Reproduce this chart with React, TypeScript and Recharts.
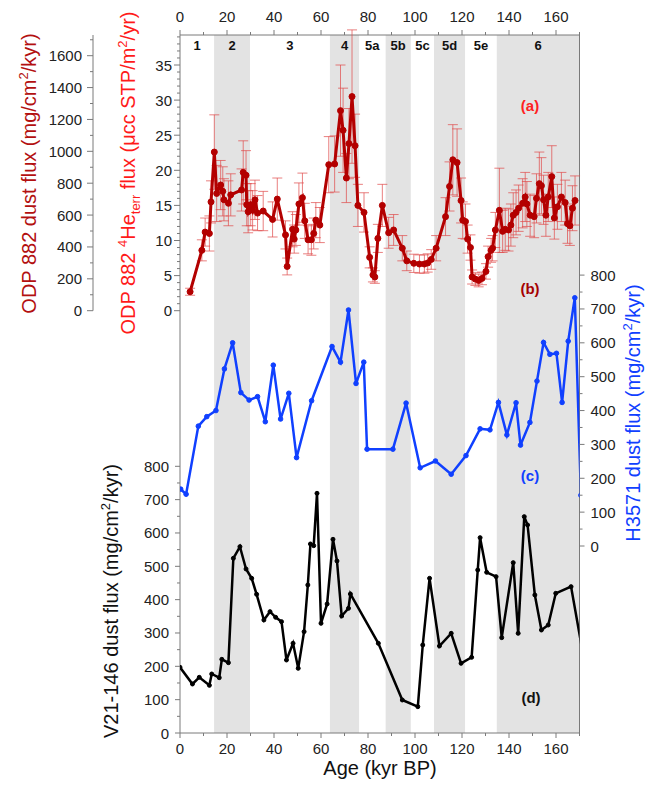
import React from 'react';
import { ComposedChart, Line, XAxis, YAxis, ErrorBar, ReferenceArea } from 'recharts';

const W = 646;
const H = 786;
// plot frame in px
const PL = 180;
const PR = 579.5;
const PT = 35;
const PB = 733;
const ODP_ZERO = 310.7; // px of zero for the ODP panel
const H_TOP = 275.1;    // px of 800 on the H3571 axis
const H_ZERO = 546;     // px of 0 on the H3571 axis
const V_TOP = 466.3;    // px of 800 on the V21 axis

const FONT = '"Liberation Sans", Arial, sans-serif';
const AXIS = '#7a7a7a';

// marine isotope stages
const stageNames = ['1', '2', '3', '4', '5a', '5b', '5c', '5d', '5e', '6'];
const stageStart = [0, 14.5, 29.8, 63.8, 76.2, 87.5, 98.2, 108.1, 121.3, 134.8];
const stageEnd = [14.5, 29.8, 63.8, 76.2, 87.5, 98.2, 108.1, 121.3, 134.8, 170];
const stageShaded = [false, true, false, true, false, true, false, true, false, true];

const ageTicks = [0, 10, 20, 30, 40, 50, 60, 70, 80, 90, 100, 110, 120, 130, 140, 150, 160, 170];
const heTicks = [0, 1, 2, 3, 4, 5, 6, 7, 8, 9, 10, 11, 12, 13, 14, 15, 16, 17, 18, 19, 20, 21, 22, 23, 24, 25, 26, 27, 28, 29, 30, 31, 32, 33, 34, 35, 36, 37, 38, 39];
const dustTicks = [0, 100, 200, 300, 400, 500, 600, 700, 800, 900, 1000, 1100, 1200, 1300, 1400, 1500, 1600, 1700];
const fluxTicks = [0, 50, 100, 150, 200, 250, 300, 350, 400, 450, 500, 550, 600, 650, 700, 750, 800];

// (a)/(b) ODP 882 4He_terr flux
const odpAge = [4.3, 9.3, 10.7, 12.5, 13.2, 14.6, 15.6, 17.3, 18.2, 18.7,
  20.6, 21.6, 26.2, 26.9, 28.1, 28.4, 29.0, 30.1, 30.9, 31.9,
  33.0, 35.4, 39.4, 41.4, 44.9, 45.6, 47.9, 48.6, 49.3, 50.6,
  52.1, 53.1, 54.5, 55.9, 56.9, 57.8, 59.5, 63.3, 65.8, 68.3,
  69.4, 70.8, 71.9, 73.2, 74.5, 75.7, 78.3, 80.7, 82.1, 82.9,
  84.2, 86.1, 88.8, 90.9, 94.6, 96.5, 99.5, 101.9, 104.0, 105.4,
  106.9, 109.0, 113.0, 114.7, 116.1, 117.9, 119.6, 120.3, 121.5, 122.4,
  123.6, 124.3, 125.7, 127.1, 128.5, 130.2, 131.1, 132.4, 133.0, 134.2,
  135.9, 137.3, 138.4, 139.8, 140.8, 141.8, 143.0, 144.1, 145.8, 146.9,
  147.6, 149.0, 150.7, 151.7, 152.9, 153.8, 154.7, 155.7, 156.7, 158.2,
  159.3, 160.6, 162.3, 163.9, 164.9, 165.9, 167.0, 168.1];
const odpHe = [2.7, 8.6, 11.2, 11.0, 15.5, 22.6, 16.7, 17.9, 17.0, 15.8,
  15.3, 16.5, 17.2, 19.7, 19.3, 15.1, 14.1, 15.1, 14.3, 15.8,
  13.9, 14.2, 13.0, 15.9, 10.8, 6.3, 11.6, 10.2, 11.5, 15.2,
  16.1, 12.8, 10.1, 10.1, 11.0, 12.9, 12.2, 20.8, 20.9, 28.5,
  25.7, 18.9, 23.8, 30.5, 23.5, 15.0, 14.0, 7.6, 5.1, 4.8,
  10.3, 15.0, 11.1, 11.5, 8.9, 7.1, 6.75, 6.65, 6.65, 6.8,
  7.3, 8.9, 13.4, 17.7, 21.5, 21.1, 15.7, 12.9, 12.7, 10.2,
  9.0, 4.8, 4.5, 4.3, 4.6, 5.6, 7.7, 8.6, 8.9, 11.5,
  14.3, 11.3, 11.6, 11.5, 12.2, 13.6, 14.0, 14.6, 15.3, 16.2,
  15.2, 13.6, 13.4, 16.0, 18.1, 17.8, 15.8, 13.6, 16.2, 19.1,
  13.2, 14.8, 16.2, 15.4, 12.4, 12.1, 14.6, 15.7];
const odpErr = [0.5, 1.5, 2.0, 2.5, 3.0, 5.3, 4.0, 3.5, 3.5, 3.0,
  3.2, 3.0, 3.0, 4.5, 3.5, 3.0, 3.0, 3.0, 2.8, 2.8,
  2.5, 2.8, 2.5, 3.0, 2.0, 1.2, 2.5, 2.0, 2.2, 3.0,
  3.5, 2.5, 2.0, 2.2, 2.2, 2.5, 2.5, 4.0, 4.0, 6.5,
  6.0, 3.5, 5.0, 9.5, 4.5, 3.0, 2.8, 1.5, 1.0, 0.9,
  2.0, 3.0, 2.2, 2.2, 1.8, 1.4, 1.3, 1.3, 1.3, 1.3,
  1.4, 1.8, 2.7, 3.5, 5.0, 4.8, 3.2, 2.6, 2.5, 2.0,
  1.8, 1.0, 0.9, 0.9, 0.9, 1.1, 1.5, 1.7, 1.8, 2.5,
  6.0, 3.0, 3.0, 3.0, 3.0, 3.2, 3.2, 3.3, 3.5, 3.5,
  3.2, 3.0, 3.0, 3.5, 4.5, 4.0, 3.5, 3.0, 3.5, 4.4,
  3.0, 3.2, 3.5, 3.2, 2.8, 2.8, 3.2, 3.5];

// (c) H3571 dust flux
const h3571Age = [0.3, 2.6, 7.8, 11.4, 15.3, 18.9, 22.4, 25.9, 29.4, 33.0,
  36.3, 39.7, 42.8, 46.3, 49.6, 56.0, 64.7, 68.3, 71.7, 74.9,
  78.2, 79.6, 90.6, 96.2, 102.2, 108.7, 115.4, 121.7, 127.7, 131.9,
  135.5, 139.1, 143.0, 144.9, 148.9, 151.9, 154.7, 157.4, 160.2, 162.6,
  165.2, 168.0, 170.6];
const h3571Flux = [168, 153, 354, 382, 400, 523, 600, 453, 431, 441,
  367, 534, 375, 451, 261, 429, 589, 543, 697, 480,
  543, 286, 286, 422, 231, 251, 212, 267, 346, 343,
  424, 328, 423, 298, 365, 487, 601, 566, 569, 424,
  605, 733, 150];

// (d) V21-146 dust flux
const v21Age = [0.0, 5.3, 8.2, 12.5, 13.5, 16.7, 17.8, 20.6, 22.7, 25.5,
  28.1, 30.5, 32.6, 35.7, 38.3, 40.7, 43.2, 45.3, 48.1, 50.3,
  52.8, 54.4, 55.5, 56.9, 58.3, 60.0, 62.6, 65.1, 66.8, 68.8,
  71.7, 72.5, 84.4, 94.6, 101.2, 103.3, 106.2, 110.4, 115.4, 119.6,
  124.1, 126.7, 127.7, 130.5, 134.5, 136.9, 141.8, 143.9, 146.5, 147.9,
  151.0, 153.8, 156.7, 159.9, 166.4, 171.5];
const v21Flux = [197, 147, 167, 143, 177, 166, 221, 211, 524, 559,
  492, 464, 416, 339, 364, 347, 334, 219, 269, 194,
  304, 444, 567, 562, 719, 329, 387, 581, 516, 351,
  374, 417, 269, 99, 79, 264, 464, 261, 299, 209,
  227, 489, 586, 482, 469, 286, 511, 299, 649, 624,
  414, 309, 324, 419, 439, 237];

const stageData = stageNames.map((n, i) => ({ age: stageStart[i], f: 0 }));
const odpData = odpAge.map((a, i) => ({ age: a, he: odpHe[i], err: odpErr[i] }));
const h3571Data = h3571Age.map((a, i) => ({ age: a, flux: h3571Flux[i] }));
const v21Data = v21Age.map((a, i) => ({ age: a, flux: v21Flux[i] }));

type Side = 'left' | 'right' | 'top' | 'bottom';

// tick with minor marks; only multiples of `major` get a label
function makeTick(side: Side, major: number, len: number, off: number) {
  return function Tick(p: any) {
    const { x, y } = p;
    const v = p.payload.value;
    const big = Math.abs(v / major - Math.round(v / major)) < 1e-6;
    const l = big ? len : 3;
    const txt = { fontSize: 15, fill: '#222', fontFamily: FONT };
    if (side === 'left') {
      return (
        <g>
          <line x1={x - l} y1={y} x2={x} y2={y} stroke={AXIS} />
          {big && <text x={x - off} y={y} textAnchor="end" dominantBaseline="central" {...txt}>{v}</text>}
        </g>
      );
    }
    if (side === 'right') {
      return (
        <g>
          <line x1={x} y1={y} x2={x + l} y2={y} stroke={AXIS} />
          {big && <text x={x + off} y={y} textAnchor="start" dominantBaseline="central" {...txt}>{v}</text>}
        </g>
      );
    }
    if (side === 'top') {
      return (
        <g>
          <line x1={x} y1={y - l} x2={x} y2={y} stroke={AXIS} />
          {big && <text x={x} y={y - off} textAnchor="middle" {...txt}>{v}</text>}
        </g>
      );
    }
    return (
      <g>
        <line x1={x} y1={y} x2={x} y2={y + l} stroke={AXIS} />
        {big && <text x={x} y={y + off} textAnchor="middle" {...txt}>{v}</text>}
      </g>
    );
  };
}

const layer: React.CSSProperties = { position: 'absolute', left: 0, top: 0 };

function Background() {
  return (
    <ComposedChart width={W} height={H} data={stageData} margin={{ top: PT - 30, right: W - PR - 10, bottom: H - PB - 30, left: PL - 10 }}>
      <XAxis xAxisId="top" dataKey="age" orientation="top" type="number" domain={[0, 170]} ticks={ageTicks} interval={0}
        height={30} tickSize={0} tickMargin={0} tick={makeTick('top', 20, 5, 13)} stroke={AXIS} allowDataOverflow />
      <XAxis xAxisId="bottom" dataKey="age" orientation="bottom" type="number" domain={[0, 170]} ticks={ageTicks} interval={0}
        height={30} tickSize={0} tickMargin={0} tick={makeTick('bottom', 20, 5, 21)} stroke={AXIS} allowDataOverflow />
      <YAxis yAxisId="frameL" width={10} domain={[0, 1]} tick={false} tickLine={false} stroke={AXIS} allowDataOverflow />
      <YAxis yAxisId="frameR" orientation="right" width={10} domain={[0, 1]} tick={false} tickLine={false} stroke={AXIS} allowDataOverflow />
      {stageNames.map((name, i) => (
        <ReferenceArea
          key={name}
          xAxisId="bottom"
          yAxisId="frameL"
          x1={stageStart[i]}
          x2={stageEnd[i]}
          y1={0}
          y2={1}
          fill={stageShaded[i] ? '#e3e3e3' : '#ffffff'}
          fillOpacity={stageShaded[i] ? 1 : 0}
          stroke="none"
          label={{ value: name, position: 'insideTop', offset: 6, fontSize: 13, fontWeight: 'bold', fill: '#111', fontFamily: FONT }}
        />
      ))}
      <Line xAxisId="bottom" yAxisId="frameL" dataKey="f" stroke="none" dot={false} isAnimationActive={false} />
    </ComposedChart>
  );
}

function OdpPanel() {
  // axis ids chosen so the He axis sits next to the plot, the dust axis outside it
  return (
    <ComposedChart width={W} height={H} data={odpData} margin={{ top: PT, right: W - PR, bottom: H - ODP_ZERO, left: 0 }}>
      <XAxis xAxisId="x" dataKey="age" type="number" domain={[0, 170]} hide allowDataOverflow />
      <YAxis yAxisId="a_he" width={87} domain={[0, (ODP_ZERO - PT) / 7.02]} ticks={heTicks} interval={0}
        tickSize={0} tickMargin={0} tick={makeTick('left', 5, 6, 8)} axisLine={false} allowDataOverflow />
      <YAxis yAxisId="b_dust" width={93} domain={[0, (ODP_ZERO - PT) / 0.159375]} ticks={dustTicks} interval={0}
        tickSize={0} tickMargin={0} tick={makeTick('left', 200, 6, 11)} stroke={AXIS} allowDataOverflow />
      <Line xAxisId="x" yAxisId="a_he" dataKey="he" stroke="#b30000" strokeWidth={3}
        dot={{ r: 3, fill: '#b30000', stroke: '#b30000', strokeWidth: 1 }} isAnimationActive={false}>
        <ErrorBar dataKey="err" direction="y" width={5} stroke="#e04848" strokeOpacity={0.7} strokeWidth={1} />
      </Line>
    </ComposedChart>
  );
}

function H3571Panel() {
  return (
    <ComposedChart width={W} height={H} data={h3571Data} margin={{ top: H_TOP, right: W - PR - 60, bottom: H - H_ZERO, left: PL }}>
      <XAxis xAxisId="x" dataKey="age" type="number" domain={[0, 170]} hide allowDataOverflow />
      <YAxis yAxisId="h" orientation="right" width={60} domain={[0, 800]} ticks={fluxTicks} interval={0}
        tickSize={0} tickMargin={0} tick={makeTick('right', 100, 5, 11)} axisLine={false} allowDataOverflow />
      <Line xAxisId="x" yAxisId="h" dataKey="flux" stroke="#1040ff" strokeWidth={2.5}
        dot={{ r: 2.3, fill: '#1040ff', stroke: '#1040ff', strokeWidth: 1 }} isAnimationActive={false} />
    </ComposedChart>
  );
}

function V21Panel() {
  return (
    <ComposedChart width={W} height={H} data={v21Data} margin={{ top: V_TOP, right: W - PR, bottom: H - PB, left: PL - 87 }}>
      <XAxis xAxisId="x" dataKey="age" type="number" domain={[0, 170]} hide allowDataOverflow />
      <YAxis yAxisId="v" width={87} domain={[0, 800]} ticks={fluxTicks} interval={0}
        tickSize={0} tickMargin={0} tick={makeTick('left', 100, 5, 11)} axisLine={false} allowDataOverflow />
      <Line xAxisId="x" yAxisId="v" dataKey="flux" stroke="#000" strokeWidth={2.5}
        dot={{ r: 2, fill: '#000', stroke: '#000', strokeWidth: 1 }} isAnimationActive={false} />
    </ComposedChart>
  );
}

function Titles() {
  const t = { fontFamily: FONT, fontSize: 20 };
  const sup = { fontSize: 13 };
  const tag = { fontFamily: FONT, fontSize: 15, fontWeight: 'bold' as const, textAnchor: 'middle' as const, dominantBaseline: 'central' as const };
  return (
    <svg width={W} height={H} style={{ ...layer, pointerEvents: 'none' }}>
      <text transform="translate(36,173.5) rotate(-90)" textAnchor="middle" fill="#b31010" {...t}>
        ODP 882 dust flux (mg/cm<tspan dy={-8} {...sup}>2</tspan><tspan dy={8}>/kyr)</tspan>
      </text>
      <text transform="translate(135,173) rotate(-90)" textAnchor="middle" fill="#ff1a1a" {...t}>
        ODP 882 <tspan dy={-8} {...sup}>4</tspan><tspan dy={8}>He</tspan><tspan dy={5} {...sup}>terr</tspan>
        <tspan dy={-5}> flux (μcc STP/m</tspan><tspan dy={-8} {...sup}>2</tspan><tspan dy={8}>/yr)</tspan>
      </text>
      <text transform="translate(118,601) rotate(-90)" textAnchor="middle" fill="#111" {...t}>
        V21-146 dust flux (mg/cm<tspan dy={-8} {...sup}>2</tspan><tspan dy={8}>/kyr)</tspan>
      </text>
      <text transform="translate(640,413) rotate(-90)" textAnchor="middle" fill="#1040ff" {...t}>
        H3571 dust flux (mg/cm<tspan dy={-8} {...sup}>2</tspan><tspan dy={8}>/kyr)</tspan>
      </text>
      <text x={380} y={775} textAnchor="middle" fill="#111" {...t}>Age (kyr BP)</text>
      <text x={530} y={105} fill="#ff2020" {...tag}>(a)</text>
      <text x={530} y={288} fill="#a50000" {...tag}>(b)</text>
      <text x={530} y={475} fill="#1040ff" {...tag}>(c)</text>
      <text x={531} y={697} fill="#111" {...tag}>(d)</text>
    </svg>
  );
}

export default function App() {
  return (
    <div style={{ ...layer, width: W, height: H, background: '#fff', fontFamily: FONT }}>
      <div style={layer}><Background /></div>
      <div style={layer}><OdpPanel /></div>
      <div style={layer}><H3571Panel /></div>
      <div style={layer}><V21Panel /></div>
      <Titles />
    </div>
  );
}
